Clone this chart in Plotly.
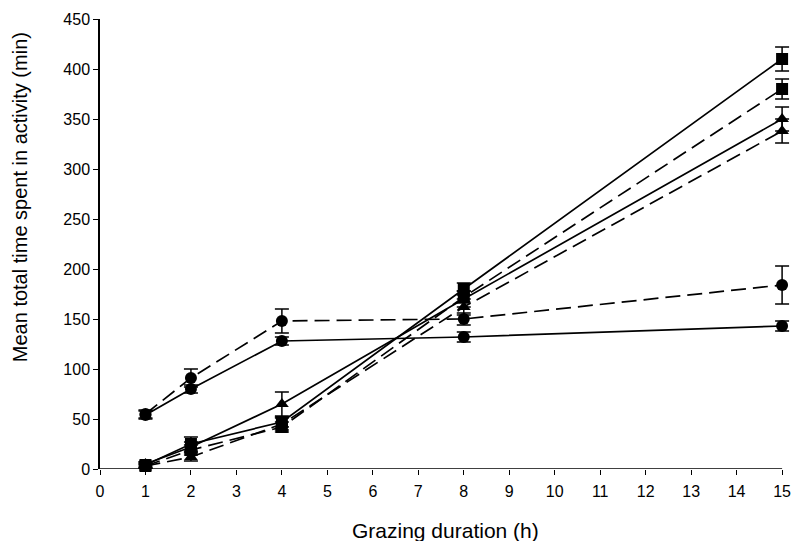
import plotly.graph_objects as go

hours = [1, 2, 4, 8, 15]

circle_solid = [54, 80, 128, 132, 143]
circle_solid_err = [4, 4, 4, 5, 5]
circle_dashed = [55, 91, 148, 150, 184]
circle_dashed_err = [4, 9, 12, 6, 19]

square_solid = [4, 25, 47, 180, 410]
square_solid_err = [3, 7, 5, 6, 12]
square_dashed = [3, 19, 42, 172, 380]
square_dashed_err = [2, 5, 5, 6, 10]

triangle_solid = [5, 22, 65, 170, 350]
triangle_solid_err = [2, 5, 12, 8, 12]
triangle_dashed = [3, 12, 45, 162, 338]
triangle_dashed_err = [2, 4, 6, 8, 12]

x_ticks = list(range(0, 16))
y_ticks = list(range(0, 451, 50))

series = [
    (circle_solid, circle_solid_err, "circle", "solid"),
    (circle_dashed, circle_dashed_err, "circle", "15px,7px"),
    (square_solid, square_solid_err, "square", "solid"),
    (square_dashed, square_dashed_err, "square", "15px,7px"),
    (triangle_solid, triangle_solid_err, "triangle-up", "solid"),
    (triangle_dashed, triangle_dashed_err, "triangle-up", "15px,7px"),
]

fig = go.Figure()
for vals, errs, sym, dash in series:
    fig.add_trace(go.Scatter(
        x=hours, y=vals, mode="lines+markers",
        line=dict(color="black", width=1.7, dash=dash),
        marker=dict(symbol=sym, size=12, color="black"),
        error_y=dict(type="data", array=errs, visible=True, color="black",
                     thickness=1.5, width=7),
        cliponaxis=False, showlegend=False,
    ))

# x axis line only spans 0..15 as in the reference
fig.add_shape(type="line", xref="x", yref="y", x0=x_ticks[0], x1=x_ticks[-1], y0=0, y1=0,
              line=dict(color="black", width=1.5), layer="below")

fam = "Liberation Sans, Arial, sans-serif"
tick_font = dict(family=fam, size=16, color="black")

fig.add_annotation(text="Grazing duration (h)", xref="paper", yref="paper",
                   x=0.5, y=0, yshift=-61, xshift=-1, xanchor="center", yanchor="middle",
                   showarrow=False, font=dict(family=fam, size=21, color="black"))
fig.add_annotation(text="Mean total time spent in activity (min)", xref="paper", yref="paper",
                   x=0, xshift=-80, y=0.604, xanchor="center", yanchor="middle",
                   textangle=-90, showarrow=False,
                   font=dict(family=fam, size=20, color="black"))

fig.update_layout(
    width=794, height=541,
    margin=dict(l=100, r=1, t=19, b=72),
    paper_bgcolor="white", plot_bgcolor="white",
    font=tick_font,
    xaxis=dict(range=[0, 15.24], tickvals=x_ticks, ticks="outside", ticklen=5,
               tickwidth=1.3, tickcolor="black", showline=False,
               showgrid=False, zeroline=False, tickfont=tick_font, ticklabelstandoff=3),
    yaxis=dict(range=[0, 450], tickvals=y_ticks, ticks="outside", ticklen=5,
               tickwidth=1.3, tickcolor="black", showline=True, linecolor="black", linewidth=1.5,
               showgrid=False, zeroline=False, tickfont=tick_font, ticksuffix="\u00a0"),
)

fig.write_html("out.html")
